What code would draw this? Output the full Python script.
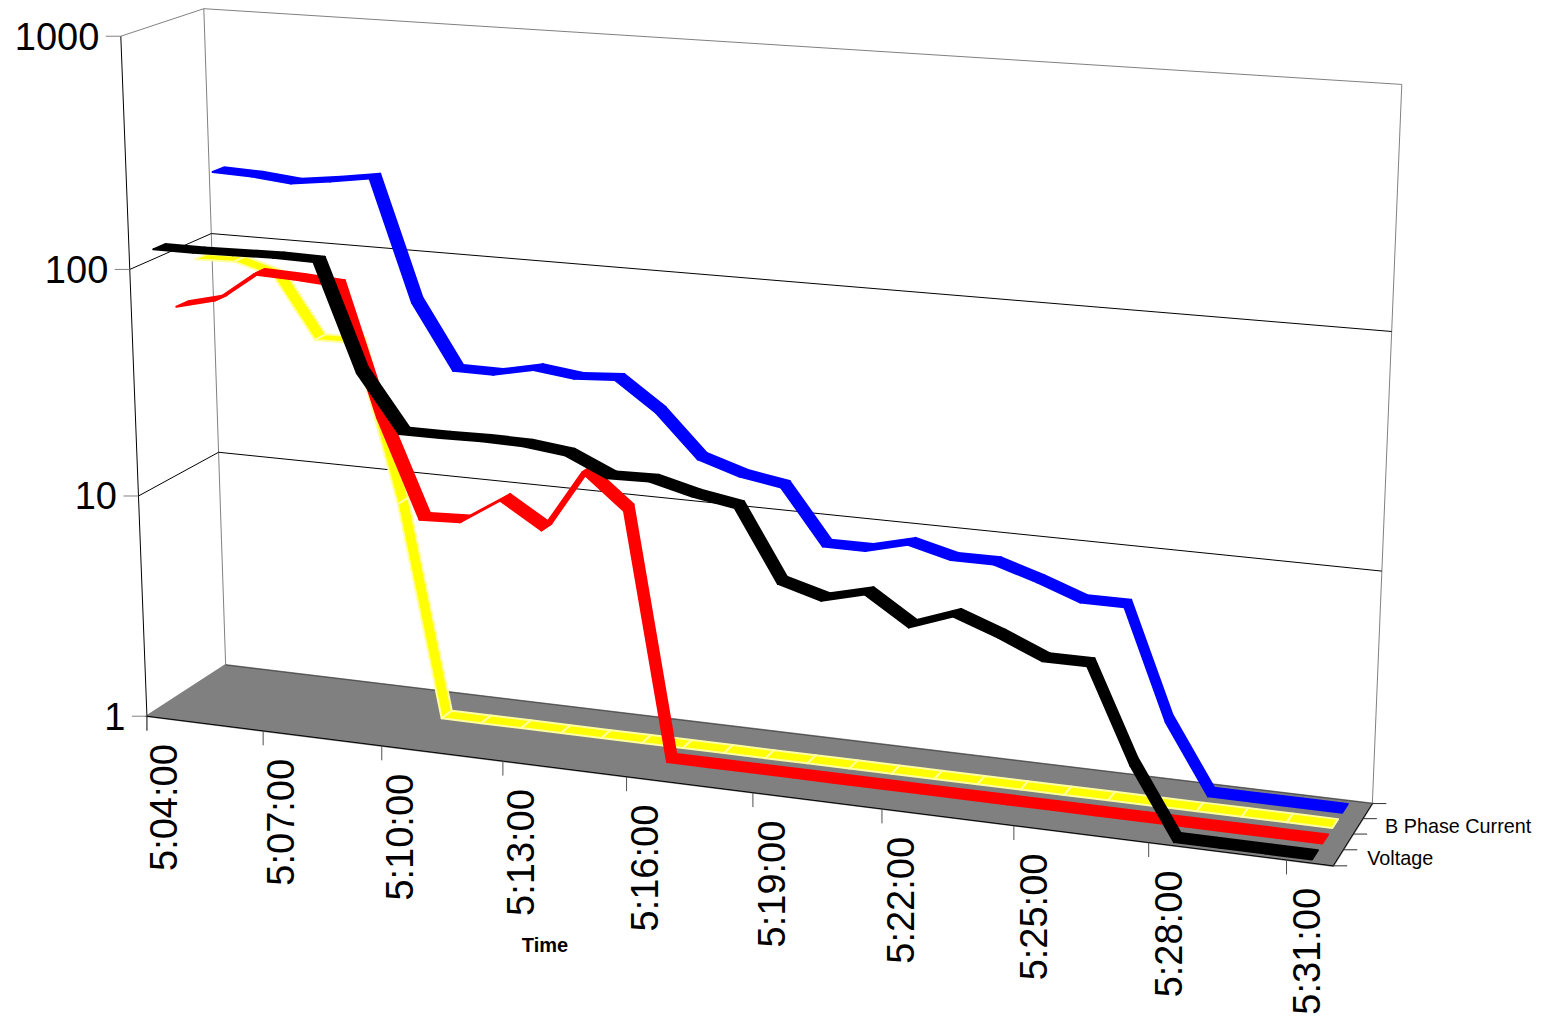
import numpy as np, pandas as pd, altair as alt

# ---- data (log axis, 1 to 1000) ----
times = ["5:04:00","5:07:00","5:10:00","5:13:00","5:16:00","5:19:00","5:22:00","5:25:00","5:28:00","5:31:00"]
voltage = [122,122,123,124,123,42.4,24,24,24.2,24,22.9,19,19.2,17.3,16.1,8,7.1,7.9,6,7,6,5,5,2,1,1,1,1]
red_series = [62.2,68.7,92.6,91.1,88.5,24.3,9,9.15,11.9,9.2,17.2,12.2,1,1,1,1,1,1,1,1,1,1,1,1,1,1,1,1]
b_phase = [91.8,92.7,82.3,44.8,45.1,8.97,1,1,1,1,1,1,1,1,1,1,1,1,1,1,1,1,1,1,1,1,1,1]
blue_series = [205,202,194,204,217,63.8,33,32.9,35.9,34.1,35,26.1,17,14.9,13.9,8,8,8.9,8,8,7,6,6,2,1,1,1,1]
y_labels = ["1","10","100","1000"]
depth_labels = {"Voltage":0,"B Phase Current":2}

# ---- perspective of the 3D box: (time, log value, depth) -> page ----
anchors=[((0,0,0),(146.7,716.7)),((0,0,1),(226,665)),((1,0,1),(1372.7,803.3)),((1,0,0),(1333.3,865.7)),
((0,1,0),(120.7,36.7)),((0,1,1),(203.3,8.3)),((1,1,1),(1402,85)),((0,2/3,0),(130,269.3)),((0,1/3,0),(139,495)),
((0,2/3,1),(211.7,233.3)),((0,1/3,1),(218.3,453.3)),((1,2/3,1),(1392,331)),((1,1/3,1),(1381,571)),
((3/28,0,0),(262.7,731.7)),((12/28,0,0),(626.7,775)),((24/28,0,0),(1148.3,842.7)),((27/28,0,0),(1286.7,861))]
A=[];b=[]
for (u,v,w),(x,y) in anchors:
    A.append([u,v,w,1,0,0,0,0,-x*u,-x*v,-x*w]);b.append(x)
    A.append([0,0,0,0,u,v,w,1,-y*u,-y*v,-y*w]);b.append(y)
P=np.append(np.linalg.lstsq(np.array(A),np.array(b),rcond=None)[0],1).reshape(3,4)
def proj(u,v,w):
    h=P@np.array([u,v,w,1.0]);return float(h[0]/h[2]),float(h[1]/h[2])

X=alt.Scale(domain=[8,1533],range=[0,1525],nice=False,zero=False)
Y=alt.Scale(domain=[8,1019],range=[0,1011],nice=False,zero=False)
ex=alt.X('x:Q',scale=X,axis=None); ey=alt.Y('y:Q',scale=Y,axis=None)

# ---- floor ----
floor=pd.DataFrame([dict(x=proj(u,0,w)[0],y=proj(u,0,w)[1],k=k) for k,(u,w) in enumerate([(0,0),(0,1),(1,1),(1,0)])])
floor_l=alt.Chart(floor).mark_line(fill='#808080',stroke='#808080',interpolate='linear-closed').encode(x=ex,y=ey,order='k:Q')

# ---- frame lines ----
segs=[]
def seg(a,b,col,dx=0,dy=0):
    p=proj(*a);q=proj(*b)
    segs.append(dict(x=p[0],y=p[1],x2=q[0]+dx,y2=q[1]+dy,col=col))
G='#808080';K='#000000'
seg((0,1,0),(0,1,1),G);seg((0,1,1),(1,1,1),G);seg((0,1,1),(0,0,1),G);seg((1,1,1),(1,0,1),G)
seg((0,0,1),(1,0,1),'#505050');seg((0,0,0),(0,0,1),G);seg((1,0,1),(1,0,0),K);seg((0,0,0),(1,0,0),K);seg((0,1,0),(0,0,0),K)
for k in (1,2):
    v=k/3
    seg((0,v,0),(0,v,1),K);seg((0,v,1),(1,v,1),K)
for k in range(4):
    seg((0,k/3,0),(0,k/3,0),G,dx=-15)
for k in range(5):
    seg((1,0,k/4),(1,0,k/4),'#303030',dx=14)
for k in range(len(times)):
    seg((3*k/28,0,0),(3*k/28,0,0),'#505050' if k else K,dy=14.5)
frame=alt.Chart(pd.DataFrame(segs)).mark_rule(strokeWidth=1).encode(
    x=ex,y=ey,x2='x2:Q',y2='y2:Q',color=alt.Color('col:N',scale=None))

# ---- ribbons ----
HALF=0.072
def ribbon(vals,j,fill,stroke,sw):
    w=(j+.5)/4;rows=[]
    for i in range(len(vals)-1):
        v0=np.log10(vals[i])/3;v1=np.log10(vals[i+1])/3
        u0=(i+.5)/28;u1=(i+1.5)/28
        for k,(u,v,d) in enumerate([(u0,v0,-HALF),(u1,v1,-HALF),(u1,v1,HALF),(u0,v0,HALF)]):
            x,y=proj(u,v,w+d);rows.append(dict(x=x,y=y,seg=i,k=k))
    return alt.Chart(pd.DataFrame(rows)).mark_line(fill=fill,stroke=stroke,strokeWidth=sw,strokeJoin='round',interpolate='linear-closed').encode(
        x=ex,y=ey,detail='seg:N',order='k:Q')
rib=[ribbon(blue_series,3,'#0000ff','#0000ff',2),ribbon(b_phase,2,'#ffff00','#ffffa0',2),
     ribbon(red_series,1,'#ff0000','#ff0000',2),ribbon(voltage,0,'#000000','#000000',2)]

# ---- text ----
ylab=[]
for k,t in enumerate(y_labels):
    x,y=proj(0,k/3,0);ylab.append(dict(x=x-21.5,y=y+2.5,t=t))
ylab_l=alt.Chart(pd.DataFrame(ylab)).mark_text(font='Liberation Sans',fontSize=38,align='right',baseline='middle',color='#000').encode(x=ex,y=ey,text='t:N')
xlab=[]
for k,t in enumerate(times):
    x,y=proj(3*k/28,0,0);xlab.append(dict(x=x+19.5+k*0.33,y=y+28,t=t))
xlab_l=alt.Chart(pd.DataFrame(xlab)).mark_text(font='Liberation Sans',fontSize=38,angle=270,align='right',baseline='middle',color='#000').encode(x=ex,y=ey,text='t:N')
dlab=[]
for t,j in depth_labels.items():
    x,y=proj(1,0,(j+.5)/4);dlab.append(dict(x=x+(27 if j else 29),y=y+1,t=t))
dlab_l=alt.Chart(pd.DataFrame(dlab)).mark_text(font='Liberation Sans',fontSize=19.8,align='left',baseline='middle',color='#000').encode(x=ex,y=ey,text='t:N')
title_l=alt.Chart(pd.DataFrame([dict(x=545,y=946,t="Time")])).mark_text(font='Liberation Sans',fontSize=20,fontWeight='bold',align='center',baseline='middle',color='#000').encode(x=ex,y=ey,text='t:N')

chart=alt.layer(floor_l,frame,*rib,ylab_l,xlab_l,dlab_l,title_l).properties(
    width=1525,height=1011,padding=0,autosize=alt.AutoSizeParams(type='none')).configure_view(stroke=None)
chart.save("out.html",embed_options={"renderer":"svg","actions":False})
